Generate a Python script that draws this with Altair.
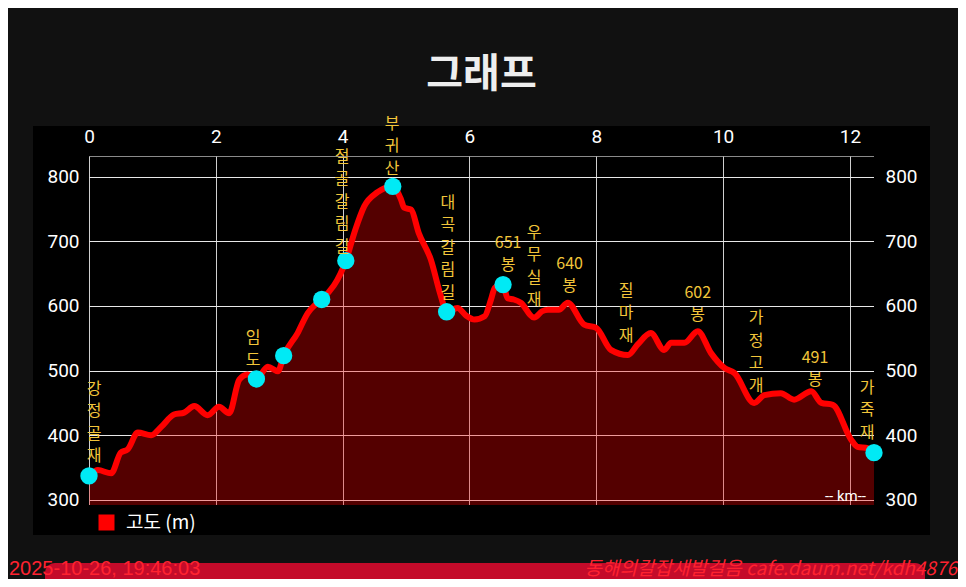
import altair as alt
import pandas as pd

# ---------------- data ----------------
km = [0.00, 0.14, 0.35, 0.50, 0.61, 0.77, 0.98, 1.14, 1.34, 1.50, 1.66, 1.87, 2.05, 2.21,
      2.37, 2.50, 2.64, 2.82, 2.98, 3.07, 3.29, 3.45, 3.58, 3.67, 4.05, 4.20, 4.34, 4.55,
      4.79, 4.92, 4.97, 5.08, 5.20, 5.39, 5.55, 5.64, 5.81, 5.95, 6.08, 6.24, 6.34, 6.40,
      6.53, 6.60, 6.70, 6.81, 7.02, 7.15, 7.24, 7.41, 7.55, 7.81, 8.00, 8.23, 8.50, 8.65,
      8.86, 9.07, 9.18, 9.39, 9.60, 9.81, 10.02, 10.18, 10.49, 10.65, 10.91, 11.12, 11.39,
      11.55, 11.73, 12.02, 12.12, 12.28, 12.38]
elev = [337, 346, 341, 373, 378, 404, 400, 413, 432, 435, 445, 431, 444, 434,
        486, 494, 487, 506, 499, 523, 558, 589, 603, 610, 670, 718, 754, 776,
        785, 765, 752, 749, 713, 672, 615, 591, 597, 585, 579, 584, 610, 628,
        633, 612, 610, 605, 582, 592, 594, 594, 605, 571, 566, 532, 524, 540,
        558, 532, 543, 543, 561, 527, 504, 496, 450, 462, 465, 455, 468,
        450, 447, 393, 382, 380, 373]

point_km = [0.00, 2.64, 3.07, 3.67, 4.05, 4.79, 5.64, 6.53, 12.38]
point_elev = [337, 487, 523, 610, 670, 785, 591, 633, 373]

label_names = ["강정골재", "임도", "절골갈림길", "부귀산", "대곡갈림길", "651봉", "우무실재",
               "640봉", "질마재", "602봉", "가정고개", "491봉", "가죽재"]
label_km = [0.08, 2.59, 3.99, 4.78, 5.66, 6.61, 7.02, 7.58, 8.47, 9.60, 10.52, 11.45, 12.27]
# elevation of the top edge of each vertical label
label_top = [484, 563, 843, 894, 772, 710, 726, 678, 636, 633, 593, 532, 486]

x_ticks = [0, 2, 4, 6, 8, 10, 12]
y_ticks = [300, 400, 500, 600, 700, 800]
x_domain = [0, 12.38]
y_domain = [292, 832]

title_text = "그래프"
series_name = "고도 (m)"
unit_label = "-- km--"
stamp_text = "2025-10-26, 19:46:03"
credit_text = "동해의칼잡새발걸음 cafe.daum.net/kdh4876"


def vertical(name):
    digits = ""
    rest = name
    while rest and rest[0].isdigit():
        digits += rest[0]
        rest = rest[1:]
    parts = ([digits] if digits else []) + list(rest)
    return "\n".join(parts)


profile = pd.DataFrame({"km": km, "elev": elev, "series": [series_name] * len(km)})
points = pd.DataFrame({"km": point_km, "elev": point_elev})
labels = pd.DataFrame({"km": label_km, "elev": label_top,
                       "label": [vertical(n) for n in label_names]})
unit_df = pd.DataFrame({"km": [x_domain[1]], "elev": [y_domain[0]], "t": [unit_label]})
one = pd.DataFrame({"a": [0]})

W, H = 785, 349
KFONT = "Noto Sans CJK KR"
LABEL_STYLE = dict(labelFontSize=19, labelColor="#ffffff", labelFont="Roboto",
                   domain=False, ticks=False, title=None, labelFlush=False)

x_scale = alt.Scale(domain=x_domain, nice=False, zero=False)
y_scale = alt.Scale(domain=y_domain, nice=False, zero=False)

# grid-only axes (drawn behind marks)
x_enc = alt.X("km:Q", scale=x_scale,
              axis=alt.Axis(orient="top", values=x_ticks, labels=False, grid=True,
                            gridColor="#cfcfcf", gridWidth=1, domain=False, ticks=False,
                            title=None))
y_enc = alt.Y("elev:Q", scale=y_scale,
              axis=alt.Axis(orient="left", values=y_ticks, labels=False, grid=True,
                            gridColor="#e8e8e8", gridWidth=1, domain=False, ticks=False,
                            title=None))


def strip(x1, x2, y1, y2, color="#000000"):
    return alt.Chart(one).mark_rect(color=color).encode(
        x=alt.value(x1), x2=alt.value(x2), y=alt.value(y1), y2=alt.value(y2))


# black panel around the plot area
panel = [
    strip(-56, W + 56, -30, 0),
    strip(-56, W + 56, H, H + 30),
    strip(-56, 0, 0, H),
    strip(W, W + 56, 0, H),
]

bar = alt.Chart(one).mark_rect(color="#c40b2a", cornerRadius=10).encode(
    x=alt.value(-44), x2=alt.value(836), y=alt.value(407), y2=alt.value(440))

stamp = alt.Chart(pd.DataFrame({"t": [stamp_text]})).mark_text(
    align="left", baseline="bottom", fontSize=20, font="Liberation Sans",
    color="#ff2230").encode(x=alt.value(-80), y=alt.value(423), text="t:N")
credit = alt.Chart(pd.DataFrame({"t": [credit_text]})).mark_text(
    align="right", baseline="bottom", fontSize=19, font=KFONT, fontStyle="italic",
    color="#ff2230").encode(x=alt.value(868), y=alt.value(423), text="t:N")

area = alt.Chart(profile).mark_area(color="#ff0000", opacity=0.33,
                                    interpolate="monotone", clip=True).encode(x=x_enc, y=y_enc)

line = alt.Chart(profile).mark_line(strokeWidth=6, interpolate="monotone", clip=True,
                                    strokeCap="round", strokeJoin="round").encode(
    x=x_enc, y=y_enc,
    color=alt.Color("series:N", scale=alt.Scale(range=["#ff0000"]),
                    legend=alt.Legend(title=None, orient="none", legendX=8, legendY=357,
                                      symbolType="square", symbolSize=256,
                                      symbolFillColor="#ff0000", symbolStrokeColor="#ff0000",
                                      symbolStrokeWidth=0, padding=0,
                                      labelColor="#ffffff", labelFontSize=19, labelFont=KFONT,
                                      labelOffset=10)))

pts = alt.Chart(points).mark_circle(size=300, color="#00eaf5", opacity=1).encode(
    x=x_enc, y=y_enc)

txt = alt.Chart(labels).mark_text(lineBreak="\n", align="center", baseline="top",
                                  fontSize=16, lineHeight=22.5, color="#f2c53a",
                                  font=KFONT).encode(x=x_enc, y=y_enc, text="label:N")

unit = alt.Chart(unit_df).mark_text(align="right", baseline="bottom", dx=-8, dy=-1,
                                    fontSize=15, color="#ffffff", font="Roboto").encode(
    x=x_enc, y=y_enc, text="t:N")

main = alt.layer(*panel, bar, stamp, credit, area, line, pts, txt, unit)

# label-only axes drawn above the black panel
top_left_axes = alt.Chart(profile).mark_line(opacity=0).encode(
    x=alt.X("km:Q", scale=x_scale,
            axis=alt.Axis(orient="top", values=x_ticks, format="d", grid=False,
                          labelPadding=10, zindex=1, **LABEL_STYLE)),
    y=alt.Y("elev:Q", scale=y_scale,
            axis=alt.Axis(orient="left", values=y_ticks, grid=False,
                          labelPadding=10, zindex=1, **LABEL_STYLE)))

right_axis = alt.Chart(profile).mark_line(opacity=0).encode(
    x=alt.X("km:Q", scale=x_scale, axis=None),
    y=alt.Y("elev:Q", scale=y_scale,
            axis=alt.Axis(orient="right", values=y_ticks, grid=False,
                          labelPadding=11, zindex=1, **LABEL_STYLE)))

chart = alt.layer(main, top_left_axes, right_axis).resolve_scale(
    x="independent", y="independent").properties(
    width=W, height=H,
    autosize=alt.AutoSizeParams(type="none"),
    padding={"left": 81, "top": 148, "right": 84, "bottom": 74},
    background="#111111",
    title=alt.Title(title_text, fontSize=40, font=KFONT, fontWeight="bold",
                    color="#eeeeee", anchor="middle", offset=21),
).configure_view(fill="#000000", stroke="#8a8a8a", strokeWidth=1)

chart.save("out.html", embed_options={"renderer": "svg", "actions": False})
